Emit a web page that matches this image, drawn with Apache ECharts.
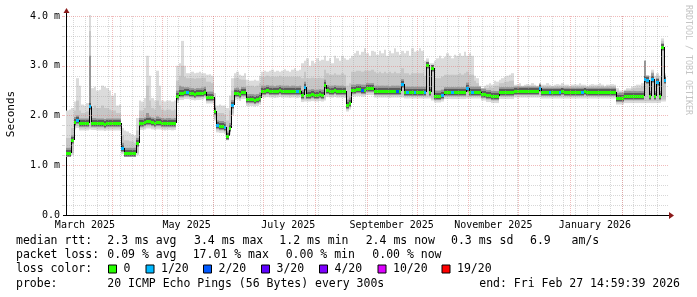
<!DOCTYPE html>
<html><head><meta charset="utf-8">
<script src="https://cdn.jsdelivr.net/npm/echarts@6/dist/echarts.min.js"></script>
<style>html,body{margin:0;padding:0;background:#fff}#c{width:697px;height:297px}</style>
</head><body><div id="c"></div>
<script>
const DAY = 86400000;
const endTime = Date.UTC(2026, 1, 27, 14, 59, 39);
const spanDays = 360;
const startTime = endTime - spanDays * DAY;
const sampleDays = 1.5;

const xTickLabels = ['March 2025', 'May 2025', 'July 2025', 'September 2025', 'November 2025', 'January 2026'];
const xTickDates = ['2025-03-16', '2025-05-16', '2025-07-16', '2025-09-16', '2025-11-16', '2026-01-16'];
const yTickValues = [0, 1, 2, 3, 4];
const yTickLabels = ['0.0', '1.0 m', '2.0 m', '3.0 m', '4.0 m'];

// median RTT (ms), one value per 1.5 day sample
const medianRtt = [
1.25,1.25,1.50,1.87,1.90,1.84,1.84,1.84,1.84,2.20,
1.85,1.85,1.84,1.84,1.84,1.83,1.84,1.84,1.84,1.84,
1.84,1.84,1.35,1.25,1.25,1.25,1.25,1.25,1.45,1.85,
1.85,1.86,1.88,1.88,1.86,1.85,1.86,1.86,1.85,1.84,
1.85,1.85,1.84,1.85,2.40,2.45,2.45,2.47,2.47,2.46,
2.45,2.44,2.45,2.45,2.46,2.48,2.38,2.38,2.38,2.10,
1.80,1.79,1.79,1.77,1.58,1.75,2.21,2.45,2.46,2.43,
2.47,2.47,2.33,2.33,2.33,2.32,2.33,2.36,2.50,2.50,
2.51,2.50,2.50,2.49,2.50,2.51,2.50,2.50,2.50,2.49,
2.50,2.50,2.49,2.50,2.41,2.58,2.42,2.42,2.43,2.42,
2.42,2.43,2.42,2.62,2.51,2.50,2.50,2.51,2.50,2.50,
2.50,2.49,2.22,2.26,2.52,2.52,2.53,2.53,2.52,2.52,
2.55,2.55,2.55,2.50,2.50,2.50,2.50,2.50,2.50,2.49,
2.50,2.50,2.50,2.50,2.63,2.48,2.48,2.48,2.48,2.48,
2.48,2.48,2.48,2.48,3.02,2.48,2.95,2.40,2.40,2.40,
2.42,2.47,2.47,2.47,2.47,2.47,2.47,2.47,2.47,2.47,
2.56,2.48,2.48,2.48,2.48,2.48,2.44,2.44,2.41,2.41,
2.39,2.39,2.39,2.47,2.47,2.47,2.47,2.47,2.47,2.50,
2.50,2.50,2.50,2.50,2.50,2.50,2.50,2.50,2.50,2.56,
2.48,2.48,2.48,2.48,2.48,2.47,2.48,2.48,2.49,2.48,
2.48,2.48,2.47,2.48,2.48,2.48,2.48,2.49,2.48,2.48,
2.48,2.47,2.48,2.48,2.48,2.48,2.48,2.48,2.47,2.48,
2.35,2.36,2.36,2.39,2.39,2.39,2.39,2.39,2.39,2.39,
2.39,2.73,2.72,2.39,2.73,2.39,2.68,2.39,3.37,2.72];

const smokeBottom = [
1.18,1.18,1.20,1.72,1.75,1.70,1.70,1.70,1.70,1.72,
1.71,1.71,1.70,1.70,1.70,1.69,1.70,1.70,1.70,1.70,
1.70,1.70,1.22,1.17,1.17,1.17,1.17,1.17,1.20,1.71,
1.71,1.72,1.74,1.74,1.72,1.71,1.72,1.72,1.71,1.70,
1.71,1.71,1.70,1.71,2.25,2.31,2.31,2.33,2.33,2.32,
2.31,2.30,2.31,2.31,2.32,2.34,2.24,2.24,2.24,1.90,
1.66,1.65,1.65,1.63,1.50,1.62,2.00,2.31,2.32,2.29,
2.33,2.33,2.19,2.19,2.19,2.18,2.19,2.22,2.36,2.36,
2.37,2.36,2.36,2.35,2.36,2.37,2.36,2.36,2.36,2.35,
2.36,2.36,2.35,2.36,2.27,2.28,2.28,2.28,2.29,2.28,
2.28,2.29,2.28,2.30,2.37,2.36,2.36,2.37,2.36,2.36,
2.36,2.35,2.08,2.12,2.38,2.38,2.39,2.39,2.38,2.38,
2.41,2.41,2.41,2.36,2.36,2.36,2.36,2.36,2.36,2.35,
2.36,2.36,2.36,2.36,2.36,2.34,2.34,2.34,2.34,2.34,
2.34,2.34,2.34,2.34,2.34,2.34,2.30,2.26,2.26,2.26,
2.28,2.33,2.33,2.33,2.33,2.33,2.33,2.33,2.33,2.33,
2.34,2.34,2.34,2.34,2.34,2.34,2.30,2.30,2.27,2.27,
2.25,2.25,2.25,2.33,2.33,2.33,2.33,2.33,2.33,2.36,
2.36,2.36,2.36,2.36,2.36,2.36,2.36,2.36,2.36,2.36,
2.34,2.34,2.34,2.34,2.34,2.34,2.34,2.34,2.34,2.34,
2.34,2.34,2.34,2.34,2.34,2.34,2.34,2.34,2.34,2.34,
2.34,2.34,2.34,2.34,2.34,2.34,2.34,2.34,2.34,2.34,
2.22,2.22,2.22,2.25,2.25,2.25,2.25,2.25,2.25,2.25,
2.25,2.25,2.25,2.25,2.25,2.25,2.25,2.25,2.28,2.28];

const smokeDark = [
1.35,1.35,1.60,1.97,2.00,1.94,1.94,1.94,1.94,3.20,
1.95,1.95,1.94,1.94,1.94,1.93,1.94,1.94,1.94,1.94,
1.94,1.94,1.45,1.35,1.35,1.35,1.35,1.35,1.55,1.95,
1.95,1.96,2.05,1.98,1.96,1.95,1.98,1.96,1.95,1.94,
1.95,1.95,1.94,1.95,2.50,2.60,2.58,2.57,2.57,2.56,
2.55,2.54,2.55,2.55,2.56,2.58,2.48,2.48,2.48,2.20,
1.90,1.89,1.89,1.87,1.68,1.85,2.31,2.55,2.56,2.53,
2.57,2.57,2.43,2.43,2.43,2.42,2.43,2.46,2.60,2.60,
2.61,2.60,2.60,2.59,2.60,2.61,2.60,2.60,2.60,2.59,
2.60,2.60,2.59,2.60,2.51,2.68,2.52,2.52,2.53,2.52,
2.52,2.53,2.52,2.72,2.61,2.60,2.60,2.61,2.60,2.60,
2.60,2.59,2.32,2.36,2.62,2.62,2.63,2.63,2.62,2.62,
2.65,2.65,2.65,2.60,2.60,2.60,2.60,2.60,2.60,2.59,
2.60,2.60,2.60,2.60,2.73,2.58,2.58,2.58,2.58,2.58,
2.58,2.58,2.58,2.58,3.05,2.58,3.00,2.50,2.50,2.50,
2.52,2.57,2.57,2.57,2.57,2.57,2.57,2.57,2.57,2.57,
2.66,2.58,2.58,2.58,2.58,2.58,2.54,2.54,2.51,2.51,
2.49,2.49,2.49,2.57,2.57,2.57,2.57,2.57,2.57,2.58,
2.58,2.58,2.58,2.58,2.58,2.58,2.58,2.58,2.58,2.64,
2.56,2.56,2.56,2.56,2.56,2.56,2.56,2.56,2.56,2.56,
2.56,2.56,2.56,2.56,2.56,2.56,2.56,2.56,2.56,2.56,
2.56,2.56,2.56,2.56,2.56,2.56,2.56,2.56,2.56,2.56,
2.45,2.46,2.46,2.49,2.49,2.49,2.49,2.49,2.49,2.49,
2.49,3.10,2.80,2.49,2.85,2.49,2.75,2.49,3.45,2.80];

const smokeMid = [
1.55,1.55,1.75,2.10,2.30,2.10,2.05,2.05,2.08,3.70,
2.15,2.20,2.15,2.15,2.20,2.15,2.15,2.12,2.10,2.10,
2.05,2.05,1.60,1.50,1.50,1.48,1.48,1.45,1.70,2.10,
2.10,2.15,2.60,2.30,2.15,2.12,2.30,2.20,2.12,2.10,
2.12,2.12,2.10,2.12,2.70,2.80,3.00,2.78,2.75,2.75,
2.75,2.74,2.75,2.75,2.76,2.76,2.68,2.68,2.65,2.35,
2.05,2.05,2.05,2.02,1.90,2.10,2.50,2.75,2.76,2.73,
2.72,2.72,2.60,2.60,2.60,2.58,2.60,2.65,2.78,2.78,
2.80,2.78,2.78,2.78,2.78,2.80,2.78,2.78,2.78,2.78,
2.78,2.78,2.78,2.78,2.75,2.88,2.75,2.75,2.76,2.75,
2.75,2.76,2.75,2.92,2.85,2.82,2.82,2.85,2.82,2.82,
2.85,2.82,2.60,2.65,2.88,2.88,2.90,2.90,2.88,2.90,
2.90,2.90,2.92,2.88,2.85,2.88,2.85,2.88,2.85,2.88,
2.85,2.88,2.85,2.85,2.95,2.85,2.85,2.82,2.85,2.85,
2.85,2.85,2.85,2.80,3.10,2.80,3.02,2.75,2.75,2.75,
2.78,2.82,2.82,2.82,2.82,2.82,2.82,2.85,2.82,2.85,
2.88,2.82,2.82,2.70,2.65,2.58,2.54,2.56,2.55,2.58,
2.56,2.60,2.60,2.65,2.65,2.68,2.68,2.70,2.70,2.60,
2.60,2.60,2.58,2.60,2.60,2.60,2.60,2.60,2.58,2.64,
2.59,2.59,2.59,2.59,2.58,2.59,2.59,2.59,2.59,2.59,
2.59,2.58,2.59,2.59,2.59,2.59,2.59,2.59,2.58,2.59,
2.59,2.59,2.59,2.59,2.59,2.58,2.59,2.59,2.59,2.59,
2.50,2.46,2.46,2.50,2.52,2.52,2.54,2.55,2.56,2.56,
2.58,3.10,2.80,2.70,2.88,2.70,2.80,2.70,3.50,2.82];

const smokeTop = [
2.10,2.12,2.15,2.28,2.75,2.60,2.22,2.20,2.25,4.02,
2.55,2.58,2.50,2.52,2.60,2.58,2.55,2.50,2.40,2.45,
2.20,2.22,1.75,1.70,1.68,1.65,1.62,1.60,1.95,2.30,
2.28,2.35,3.20,2.80,2.35,2.30,2.90,2.60,2.30,2.28,
2.30,2.30,2.28,2.30,3.00,3.05,3.50,3.00,2.85,2.85,
2.88,2.85,2.86,2.88,2.85,2.85,2.82,2.83,2.80,2.45,
2.20,2.22,2.20,2.20,2.15,2.40,2.75,2.85,2.88,2.82,
2.80,2.85,2.72,2.70,2.70,2.72,2.70,2.80,2.88,2.90,
2.88,2.90,2.92,2.88,2.90,2.88,2.90,2.93,2.90,2.88,
2.92,2.95,2.90,2.92,3.05,3.10,3.15,3.00,3.10,3.05,
3.15,3.10,3.12,3.20,3.10,3.15,3.05,3.20,3.15,3.10,
3.20,3.15,3.12,3.15,3.20,3.25,3.30,3.22,3.28,3.35,
3.25,3.20,3.30,3.28,3.22,3.30,3.25,3.32,3.20,3.30,
3.25,3.35,3.28,3.22,3.30,3.25,3.30,3.20,3.35,3.28,
3.30,3.35,3.30,3.10,3.15,3.05,3.05,3.10,3.15,3.20,
3.15,3.18,3.25,3.20,3.15,3.22,3.20,3.25,3.20,3.28,
3.20,3.25,3.20,2.80,2.75,2.60,2.55,2.60,2.62,2.65,
2.62,2.70,2.68,2.72,2.75,2.78,2.80,2.82,2.85,2.62,
2.62,2.65,2.60,2.62,2.63,2.62,2.65,2.62,2.60,2.65,
2.62,2.62,2.65,2.62,2.60,2.62,2.63,2.62,2.65,2.62,
2.62,2.60,2.62,2.63,2.62,2.65,2.62,2.62,2.60,2.62,
2.63,2.62,2.62,2.65,2.62,2.60,2.62,2.62,2.63,2.62,
2.55,2.50,2.50,2.52,2.55,2.55,2.58,2.60,2.62,2.62,
2.65,3.10,2.80,2.80,2.92,2.80,2.85,2.80,3.55,2.85];

// samples with packet loss (index into lossLabels/lossColors)
const lossAt    = [4,9,22,48,60,63,66,92,95,118,132,134,136,139,143,150,154,160,162,189,193,197,206,231,232,234,236,239];
const lossLevel = [1,1,1,1,1,1,1,1,1,2,2,1,1,1,1,1,1,1,1,1,1,1,1,1,1,1,1,1];
const lossLabels = ['0', '1/20', '2/20', '3/20', '4/20', '10/20', '19/20'];
const lossColors = ['#26ff00', '#00b8ff', '#0059ff', '#5e00ff', '#7e00ff', '#dd00ff', '#ff0000'];

const rttStats = ['2.3 ms avg', '3.4 ms max', '1.2 ms min', '2.4 ms now', '0.3 ms sd', '6.9   am/s'];
const lossStats = ['0.09 % avg', '17.01 % max', '0.00 % min', '0.00 % now'];
const probeText = '20 ICMP Echo Pings (56 Bytes) every 300s';
const endText = 'end: Fri Feb 27 14:59:39 2026';

// ---------- derived ----------
const lossOf = new Array(medianRtt.length).fill(0);
lossAt.forEach((j, k) => { lossOf[j] = lossLevel[k]; });
const sampleStart = j => startTime + j * sampleDays * DAY;
const parseDay = s => { const p = s.split('-').map(Number); return Date.UTC(p[0], p[1] - 1, p[2]); };
const xTickTimes = xTickDates.map(parseDay);
const yMax = 4.02;

const gridItems = [];
for (let m = 3; m <= 13; m++) gridItems.push({ dir: 'v', val: Date.UTC(2025, m, 1), major: true });
let d = new Date(startTime); d = new Date(Date.UTC(d.getUTCFullYear(), d.getUTCMonth(), d.getUTCDate() + 1));
while (d.getUTCDay() !== 0) d = new Date(d.getTime() + DAY);
for (let t = d.getTime(); t < endTime; t += 7 * DAY) gridItems.unshift({ dir: 'v', val: t, major: false });
for (let k = 1; k <= 20; k++) { const v = k / 5; gridItems.push({ dir: 'h', val: v, major: k % 5 === 0 }); }
gridItems.sort((a, b) => (a.major ? 1 : 0) - (b.major ? 1 : 0));

const FONT = '"DejaVu Sans Mono", monospace';
const MINOR_C = 'rgba(160,160,160,0.42)';
const MAJOR_C = 'rgba(225,120,120,0.5)';

function smokeItem(params, api) {
  const j = params.dataIndex;
  const t0 = sampleStart(j), t1 = sampleStart(j + 1);
  const x0 = Math.round(api.coord([t0, 0])[0]);
  const x1 = Math.round(api.coord([t1, 0])[0]);
  const w = x1 - x0;
  const Y = v => api.coord([t0, v])[1];
  const yb = Y(smokeBottom[j]), yt = Y(smokeTop[j]), ym = Y(smokeMid[j]), yd = Y(smokeDark[j]);
  const ymed = Math.round(Y(medianRtt[j]));
  const kids = [
    { type: 'rect', shape: { x: x0, y: yt, width: w, height: yb - yt }, style: { fill: '#dbdbdb' } },
    { type: 'rect', shape: { x: x0, y: ym, width: w, height: (yb - 2) - ym }, style: { fill: '#c6c6c6' } },
    { type: 'rect', shape: { x: x0, y: yd, width: w, height: (ymed + 4) - yd }, style: { fill: '#959595' } },
    { type: 'rect', shape: { x: x0, y: ymed - 3, width: w, height: 6 }, style: { fill: '#5c5c5c' } }
  ];
  if (j > 0) {
    const yp = Math.round(Y(medianRtt[j - 1]));
    if (yp !== ymed) kids.push({ type: 'line', shape: { x1: x0 + 0.5, y1: yp, x2: x0 + 0.5, y2: ymed }, style: { stroke: '#000', lineWidth: 1 } });
  }
  return { type: 'group', children: kids };
}

function medianItem(params, api) {
  const j = params.dataIndex;
  const t0 = sampleStart(j), t1 = sampleStart(j + 1);
  const x0 = Math.round(api.coord([t0, 0])[0]);
  const x1 = Math.round(api.coord([t1, 0])[0]);
  const ymed = Math.round(api.coord([t0, medianRtt[j]])[1]);
  return { type: 'rect', shape: { x: x0, y: ymed - 1, width: x1 - x0, height: 3 }, style: { fill: lossColors[lossOf[j]] } };
}

function gridItem(params, api) {
  const g = gridItems[params.dataIndex];
  const xs = api.coord([startTime, 0])[0], xe = api.coord([endTime, 0])[0];
  const yb = api.coord([startTime, 0])[1], yt = api.coord([startTime, yMax])[1];
  const col = g.major ? MAJOR_C : MINOR_C;
  if (g.dir === 'v') {
    const x = Math.round(api.coord([g.val, 0])[0]) + 0.5;
    return { type: 'line', shape: { x1: x, y1: yb, x2: x, y2: yt }, style: { stroke: col, lineWidth: 1, lineDash: [1, 1] } };
  }
  const y = Math.round(api.coord([startTime, g.val])[1]) + 0.5;
  return { type: 'group', children: [
    { type: 'line', shape: { x1: xs + 1, y1: y, x2: xe + 2, y2: y }, style: { stroke: col, lineWidth: 1, lineDash: [1, 1] } },
    { type: 'line', shape: { x1: xs - 4, y1: y, x2: xs - 1, y2: y }, style: { stroke: col, lineWidth: 1 } }
  ] };
}

const sampleData = medianRtt.map((v, j) => [sampleStart(j) + sampleDays * DAY / 2, v]);

const txt = (text, x, y, extra) => Object.assign({ type: 'text', x: x, y: y, silent: true,
  style: { text: text, font: '11.5px ' + FONT, fill: '#000', align: 'left', verticalAlign: 'middle' } }, extra || {});

const graphics = [];
graphics.push({ type: 'line', shape: { x1: 63, y1: 215.5, x2: 669, y2: 215.5 }, style: { stroke: '#000', lineWidth: 1 } });
graphics.push({ type: 'line', shape: { x1: 66.5, y1: 216, x2: 66.5, y2: 12 }, style: { stroke: '#000', lineWidth: 1 } });
graphics.push({ type: 'polygon', shape: { points: [[669, 212], [674, 215.5], [669, 219]] }, style: { fill: '#8b1a1a' } });
graphics.push({ type: 'polygon', shape: { points: [[63.5, 13], [66.5, 8], [69.5, 13]] }, style: { fill: '#8b1a1a' } });
graphics.push({ type: 'text', x: 11, y: 114, rotation: Math.PI / 2, style: { text: 'Seconds', font: '11px ' + FONT, fill: '#000', align: 'center', verticalAlign: 'middle' } });
graphics.push({ type: 'text', x: 688, y: 60, rotation: -Math.PI / 2, style: { text: 'RRDTOOL / TOBI OETIKER', font: '8.3px ' + FONT, fill: '#c4c4c4', align: 'center', verticalAlign: 'middle' } });
graphics.push(txt('median rtt:', 16, 241));
[107.3, 194, 279.3, 365.7, 451, 530].forEach((x, i) => graphics.push(txt(rttStats[i], x, 241)));
graphics.push(txt('packet loss:', 16, 255.3));
[107.3, 192.7, 285.7, 372.3].forEach((x, i) => graphics.push(txt(lossStats[i], x, 255.3)));
graphics.push(txt('loss color:', 16, 269.3));
[108.5, 146, 203.5, 261.5, 319.5, 378, 442].forEach((x, i) => {
  graphics.push({ type: 'rect', shape: { x: x, y: 265, width: 8, height: 8 }, style: { fill: lossColors[i], stroke: '#000', lineWidth: 1 } });
  graphics.push(txt(lossLabels[i], x + 15, 269.3));
});
graphics.push(txt('probe:', 16, 283.7));
graphics.push(txt(probeText, 107.3, 283.7));
graphics.push(txt(endText, 680, 283.7, { style: { text: endText, font: '11.5px ' + FONT, fill: '#000', align: 'right', verticalAlign: 'middle' } }));

const chart = echarts.init(document.getElementById('c'), null, { renderer: 'canvas' });
chart.setOption({
  animation: false,
  backgroundColor: '#fff',
  grid: { left: 66, top: 15, width: 600, height: 200, containLabel: false },
  xAxis: {
    type: 'value', min: startTime, max: endTime,
    axisLine: { show: false }, axisTick: { show: false }, splitLine: { show: false },
    axisLabel: {
      customValues: xTickTimes, margin: 5, fontSize: 10, fontFamily: FONT, color: '#000',
      formatter: v => { const i = xTickTimes.indexOf(v); return i >= 0 ? xTickLabels[i] : ''; }
    }
  },
  yAxis: {
    type: 'value', min: 0, max: yMax,
    axisLine: { show: false }, axisTick: { show: false }, splitLine: { show: false },
    axisLabel: {
      customValues: yTickValues, margin: 6, fontSize: 10, fontFamily: FONT, color: '#000',
      formatter: v => { const i = yTickValues.indexOf(v); return i >= 0 ? yTickLabels[i] : ''; }
    }
  },
  series: [
    { type: 'custom', name: 'smoke', renderItem: smokeItem, data: sampleData, z: 1, silent: true },
    { type: 'custom', name: 'median', renderItem: medianItem, data: sampleData, z: 3, silent: true },
    { type: 'custom', name: 'grid', renderItem: gridItem, data: gridItems.map(() => [startTime, 0]), z: 4, silent: true }
  ],
  graphic: { elements: graphics }
});
</script>
</body></html>
